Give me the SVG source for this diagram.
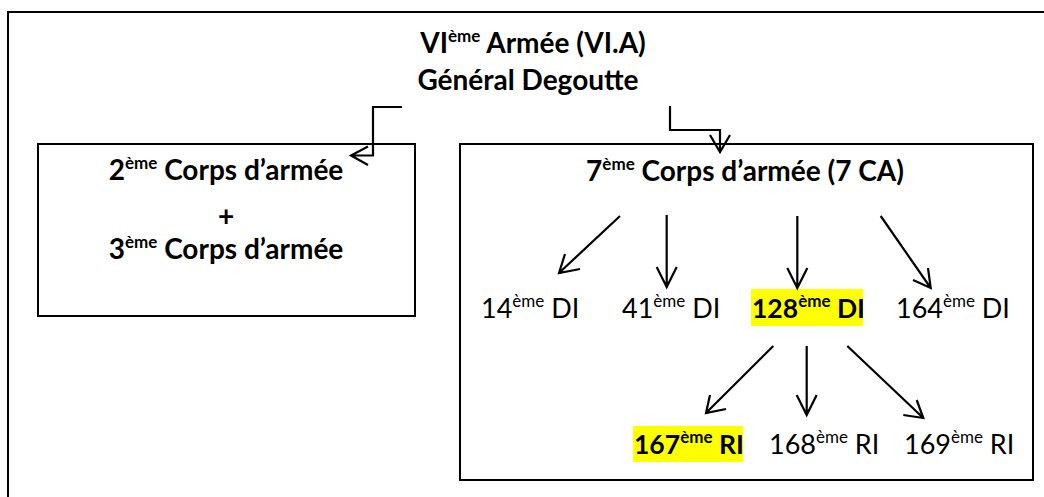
<svg xmlns="http://www.w3.org/2000/svg" width="1044" height="497" viewBox="0 0 1044 497">
<style>
.frame{fill:none;stroke:#000;stroke-width:2}
.box{fill:#fff;stroke:#000;stroke-width:2}
.ln{fill:none;stroke:#000;stroke-width:2.2}
.b{font-family:Lato,"Liberation Sans",sans-serif;font-weight:bold;font-size:28px;fill:#000}
.bs{font-family:Lato,"Liberation Sans",sans-serif;font-weight:bold;font-size:26.5px;fill:#000}
.r{font-family:Lato,"Liberation Sans",sans-serif;font-size:27px;fill:#000}
.sup{font-size:17px}
.hl{fill:#ffff00}
</style>
<rect width="1044" height="497" fill="#fff"/>
<path class="frame" d="M8,498 V12 H1045"/>
<g id="top">
<text class="b" x="533" y="53" text-anchor="middle">VI<tspan class="sup" dy="-11">ème</tspan><tspan dy="11"> Armée (VI.A)</tspan></text>
<text class="b" x="528" y="90" text-anchor="middle">Général Degoutte</text>
</g>
<g id="left">
<rect class="box" x="38" y="144" width="377" height="172"/>
<text class="b" x="226" y="180" text-anchor="middle">2<tspan class="sup" dy="-11">ème</tspan><tspan dy="11"> Corps d’armée</tspan></text>
<text class="b" x="226" y="226" text-anchor="middle">+</text>
<text class="b" x="226" y="259" text-anchor="middle">3<tspan class="sup" dy="-11">ème</tspan><tspan dy="11"> Corps d’armée</tspan></text>
</g>
<g id="right">
<rect class="box" x="460" y="144" width="573" height="336"/>
<text class="b" x="745" y="181" text-anchor="middle">7<tspan class="sup" dy="-11">ème</tspan><tspan dy="11"> Corps d’armée (7 CA)</tspan></text>
</g>
<g id="di14"><text class="r" x="481" y="318">14<tspan class="sup" dy="-11">ème</tspan><tspan dy="11"> DI</tspan></text></g>
<g id="di41"><text class="r" x="622" y="318">41<tspan class="sup" dy="-11">ème</tspan><tspan dy="11"> DI</tspan></text></g>
<g id="di128"><rect class="hl" x="751" y="289" width="112" height="37"/><text class="bs" x="752" y="318">128<tspan class="sup" dy="-11">ème</tspan><tspan dy="11"> DI</tspan></text></g>
<g id="di164"><text class="r" x="896" y="318">164<tspan class="sup" dy="-11">ème</tspan><tspan dy="11">  DI</tspan></text></g>
<g id="ri167"><rect class="hl" x="633" y="426" width="110" height="36"/><text class="bs" x="634" y="454">167<tspan class="sup" dy="-11">ème</tspan><tspan dy="11"> RI</tspan></text></g>
<g id="ri168"><text class="r" x="769" y="454">168<tspan class="sup" dy="-11">ème</tspan><tspan dy="11"> RI</tspan></text></g>
<g id="ri169"><text class="r" x="904" y="454">169<tspan class="sup" dy="-11">ème</tspan><tspan dy="11"> RI</tspan></text></g>
<g id="connectors">
<path class="ln" d="M402,107 H373 V155.5 H351 M368,146.5 L351,155.5 L368,165"/>
<path class="ln" d="M670,106 V130 H720 V152 M710,135 L720,152 L730,135"/>
<path class="ln" d="M620,216 L559,273 M565,254 L559,273 L580,269"/>
<path class="ln" d="M666.7,215 V287 M656.7,267 L666.7,287 L676.7,267"/>
<path class="ln" d="M797.3,216 V288 M787.3,268 L797.3,288 L807.3,268"/>
<path class="ln" d="M880.7,216 L930.7,288 M928,268 L930.7,288 L913,280"/>
<path class="ln" d="M773.3,346 L706,413 M710,395 L706,413 L726,409"/>
<path class="ln" d="M806.7,346 V415 M796.7,395 L806.7,415 L816.7,395"/>
<path class="ln" d="M847.3,346 L923.3,418 M916.7,400 L923.3,418 L903.3,415"/>
</g>
</svg>
